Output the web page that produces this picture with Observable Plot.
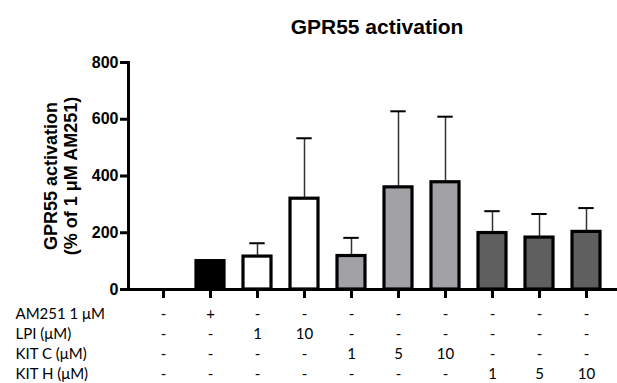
<!DOCTYPE html>
<html>
<head>
<meta charset="utf-8">
<script src="https://cdn.jsdelivr.net/npm/d3@7"></script>
<script src="https://cdn.jsdelivr.net/npm/@observablehq/plot@0.6"></script>
<style>
  html, body { margin: 0; padding: 0; background: #fff; }
  svg { display: block; }
</style>
</head>
<body>
<div id="chart"></div>
<script>
// ---- data ----
const columns = ["c0", "c1", "c2", "c3", "c4", "c5", "c6", "c7", "c8", "c9"];
const groups  = ["none", "AM251", "LPI", "LPI", "KIT C", "KIT C", "KIT C", "KIT H", "KIT H", "KIT H"];
const means   = [0, 100, 116, 320, 118, 360, 378, 199, 183, 203];
const sds     = [0, 0, 47, 213, 64, 268, 231, 77, 83, 84];

const rowLabels = ["AM251 1 μM", "LPI (μM)", "KIT C (μM)", "KIT H (μM)"];
const rowAM251  = ["-", "+", "-", "-", "-", "-", "-", "-", "-", "-"];
const rowLPI    = ["-", "-", "1", "10", "-", "-", "-", "-", "-", "-"];
const rowKITC   = ["-", "-", "-", "-", "1", "5", "10", "-", "-", "-"];
const rowKITH   = ["-", "-", "-", "-", "-", "-", "-", "1", "5", "10"];
const rows = [rowAM251, rowLPI, rowKITC, rowKITH];

const yTicks = [0, 200, 400, 600, 800];
const title = "GPR55 activation";
const yLabel = "GPR55 activation\n(% of 1 μM AM251)";

// ---- build ----
const data = columns.map((c, i) => ({col: c, group: groups[i], mean: means[i], sd: sds[i]}));
const bars = data.filter(d => d.mean > 0);
const errs = data.filter(d => d.sd > 0);

const sans = "'Liberation Sans', Arial, Helvetica, sans-serif";
const tableFont = "Lato, 'Open Sans', sans-serif";

const tableMarks = [];
rows.forEach((row, r) => {
  const dy = 25 + r * 20;
  tableMarks.push(Plot.text(columns, {
    x: d => d, text: (d, i) => row[i], frameAnchor: "bottom", dy,
    lineAnchor: "middle", fontSize: 15, fontFamily: tableFont, fill: "#000"
  }));
  tableMarks.push(Plot.text([rowLabels[r]], {
    frameAnchor: "bottom-left", dx: -113, dy, textAnchor: "start",
    lineAnchor: "middle", fontSize: 15, fontFamily: tableFont, fill: "#000"
  }));
});

const chart = Plot.plot({
  width: 617,
  height: 383,
  marginLeft: 128,
  marginRight: 0,
  marginTop: 62,
  marginBottom: 94,
  style: {background: "#fff", color: "#000", overflow: "visible"},
  x: {type: "band", domain: columns, range: [128, 620.7], paddingInner: 0.40, paddingOuter: 0.372, axis: null},
  y: {domain: [0, 800], axis: null},
  color: {domain: ["none", "AM251", "LPI", "KIT C", "KIT H"], range: ["none", "#000000", "#ffffff", "#a2a1a5", "#5f5f5f"]},
  marks: [
    // error stems
    Plot.ruleX(errs, {x: "col", y1: "mean", y2: d => d.mean + d.sd, stroke: "#333", strokeWidth: 1.5}),
    // caps
    Plot.tickY(errs, {x: "col", y: d => d.mean + d.sd, stroke: "#000", strokeWidth: 2, insetLeft: 6.3, insetRight: 6.3}),
    // bars
    Plot.barY(bars, {x: "col", y: "mean", fill: "group", stroke: "#000", strokeWidth: 3.2}),
    // axes
    Plot.ruleY([0], {stroke: "#000", strokeWidth: 3}),
    Plot.frame({anchor: "left", stroke: "#000", strokeWidth: 3}),
    Plot.axisY({ticks: yTicks, tickSize: 8, strokeWidth: 3, tickPadding: 2, label: null,
      fontSize: 16, fontWeight: "bold", fontFamily: sans}),
    Plot.axisX({tickSize: 9, strokeWidth: 3, tickFormat: () => "", label: null}),
    // y label
    Plot.text([yLabel], {frameAnchor: "left", dx: -68, rotate: -90, textAnchor: "middle", lineAnchor: "middle",
      lineHeight: 1.1, fontSize: 18, fontWeight: "bold", fontFamily: sans, fill: "#000"}),
    // title
    Plot.text([title], {frameAnchor: "top", dx: 4, dy: -35, textAnchor: "middle", lineAnchor: "middle",
      fontSize: 21, fontWeight: "bold", fontFamily: sans, fill: "#000"}),
    ...tableMarks
  ]
});
document.getElementById("chart").append(chart);
</script>
</body>
</html>
